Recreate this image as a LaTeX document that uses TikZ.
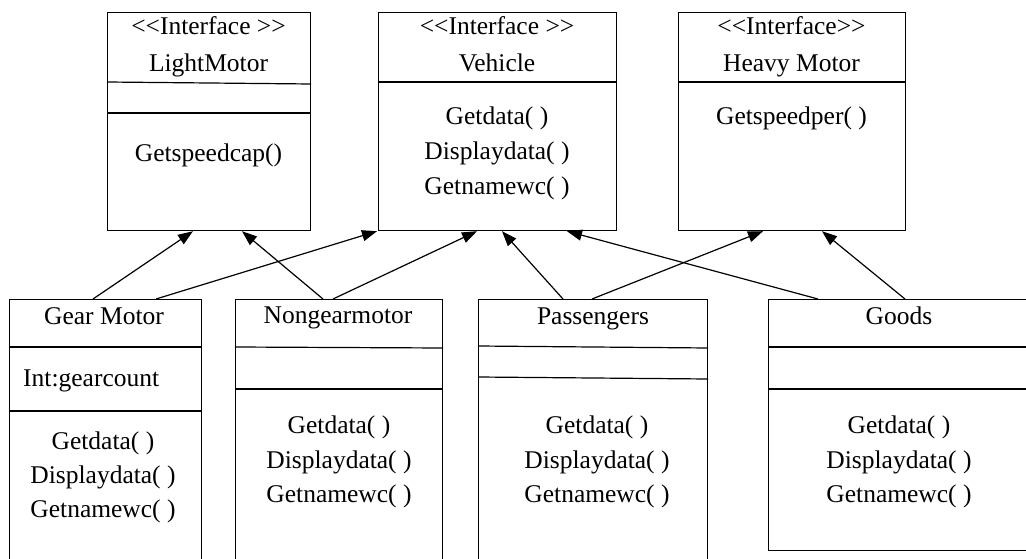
\documentclass[tikz,border=0pt]{standalone}
\usepackage{fontspec}
\setmainfont{Liberation Serif}
\usetikzlibrary{arrows.meta,calc}
\newcommand\ltlt{<\kern0pt<}
\newcommand\gtgt{>\kern0pt>}
\begin{document}
\begin{tikzpicture}[x=1pt,y=-1pt,
  classbox/.style={draw,line width=1.2pt,rectangle,inner sep=0pt,anchor=north west},
  divider/.style={line width=1.2pt},
  lbl/.style={inner sep=0pt,anchor=base,font=\fontsize{25.5}{30}\selectfont},
  arr/.style={line width=1.2pt,-{Triangle[length=15pt,width=11pt]}}]
\useasboundingbox (0,0) rectangle (1026,559);
\clip (0,0) rectangle (1026,559);
\fill[white] (0,0) rectangle (1026,559);

% interfaces
\node[classbox,minimum width=203pt,minimum height=218pt] (light) at (107,12) {};
\node[classbox,minimum width=238pt,minimum height=218pt] (vehicle) at (378,12) {};
\node[classbox,minimum width=227pt,minimum height=218pt] (heavy) at (678,12) {};

% classes
\node[classbox,minimum width=192pt,minimum height=290pt] (gear) at (9,299) {};
\node[classbox,minimum width=207pt,minimum height=290pt] (nongear) at (235,299) {};
\node[classbox,minimum width=229pt,minimum height=290pt] (pass) at (478,299) {};
\node[classbox,minimum width=290pt,minimum height=251pt] (goods) at (768,299) {};

% compartments
\draw[divider] ($(light.north west)+(0,70)$) -- ($(light.north east)+(0,72)$);
\draw[divider] ($(light.north west)+(0,101)$) -- ($(light.north east)+(0,101)$);
\draw[divider] ($(vehicle.north west)+(0,70)$) -- ($(vehicle.north east)+(0,70)$);
\draw[divider] ($(heavy.north west)+(0,70)$) -- ($(heavy.north east)+(0,70)$);
\draw[divider] ($(gear.north west)+(0,48)$) -- ($(gear.north east)+(0,48)$);
\draw[divider] ($(gear.north west)+(0,112)$) -- ($(gear.north east)+(0,112)$);
\draw[divider] ($(nongear.north west)+(0,48)$) -- ($(nongear.north east)+(0,49)$);
\draw[divider] ($(nongear.north west)+(0,90)$) -- ($(nongear.north east)+(0,90)$);
\draw[divider] ($(pass.north west)+(0,47)$) -- ($(pass.north east)+(0,49)$);
\draw[divider] ($(pass.north west)+(0,78)$) -- ($(pass.north east)+(0,80)$);
\draw[divider] ($(goods.north west)+(0,48)$) -- ($(goods.north east)+(0,48)$);
\draw[divider] ($(goods.north west)+(0,90)$) -- ($(goods.north east)+(0,90)$);

% LightMotor
\node[lbl] (l1) at (208.5,35) {\ltlt Interface \gtgt};
\node[lbl] (l2) at (208.5,72) {LightMotor};
\node[lbl] (l3) at (208.5,162) {Getspeedcap()};
% Vehicle
\node[lbl] (v1) at (497,35) {\ltlt Interface \gtgt};
\node[lbl] (v2) at (497,72) {Vehicle};
\node[lbl] (v3) at (497,125) {Getdata( )};
\node[lbl] (v4) at (497,160) {Displaydata( )};
\node[lbl] (v5) at (497,194) {Getnamewc( )};
% Heavy Motor
\node[lbl] (h1) at (791.5,35) {\ltlt Interface\gtgt};
\node[lbl] (h2) at (791.5,72) {Heavy Motor};
\node[lbl] (h3) at (791.5,125) {Getspeedper( )};
% Gear Motor
\node[lbl] (g1) at (104,324) {Gear Motor};
\node[lbl,anchor=base west] (g2) at (23,386) {Int:gearcount};
\node[lbl] (g3) at (103,449) {Getdata( )};
\node[lbl] (g4) at (103,483) {Displaydata( )};
\node[lbl] (g5) at (103,517) {Getnamewc( )};
% Nongearmotor
\node[lbl] (n1) at (338,323) {Nongearmotor};
\node[lbl] (n3) at (339,433) {Getdata( )};
\node[lbl] (n4) at (339,468) {Displaydata( )};
\node[lbl] (n5) at (339,502) {Getnamewc( )};
% Passengers
\node[lbl] (p1) at (593,324) {Passengers};
\node[lbl] (p3) at (597,433) {Getdata( )};
\node[lbl] (p4) at (597,468) {Displaydata( )};
\node[lbl] (p5) at (597,502) {Getnamewc( )};
% Goods
\node[lbl] (o1) at (899,324) {Goods};
\node[lbl] (o3) at (899,433) {Getdata( )};
\node[lbl] (o4) at (899,468) {Displaydata( )};
\node[lbl] (o5) at (899,502) {Getnamewc( )};

% realization arrows
\draw[arr] ($(gear.north west)+(84,0)$) -- ($(light.south west)+(86,0)$);
\draw[arr] ($(gear.north west)+(147,0)$) -- ($(vehicle.south west)+(-1,0)$);
\draw[arr] ($(nongear.north west)+(88,0)$) -- ($(light.south west)+(135,0)$);
\draw[arr] ($(nongear.north west)+(98,0)$) -- ($(vehicle.south west)+(99,0)$);
\draw[arr] ($(pass.north west)+(85,0)$) -- ($(vehicle.south west)+(124,0)$);
\draw[arr] ($(pass.north west)+(114,0)$) -- ($(heavy.south west)+(85,0)$);
\draw[arr] ($(goods.north west)+(50,0)$) -- ($(vehicle.south west)+(189,0)$);
\draw[arr] ($(goods.north west)+(137,0)$) -- ($(heavy.south west)+(144,0)$);
\end{tikzpicture}
\end{document}
